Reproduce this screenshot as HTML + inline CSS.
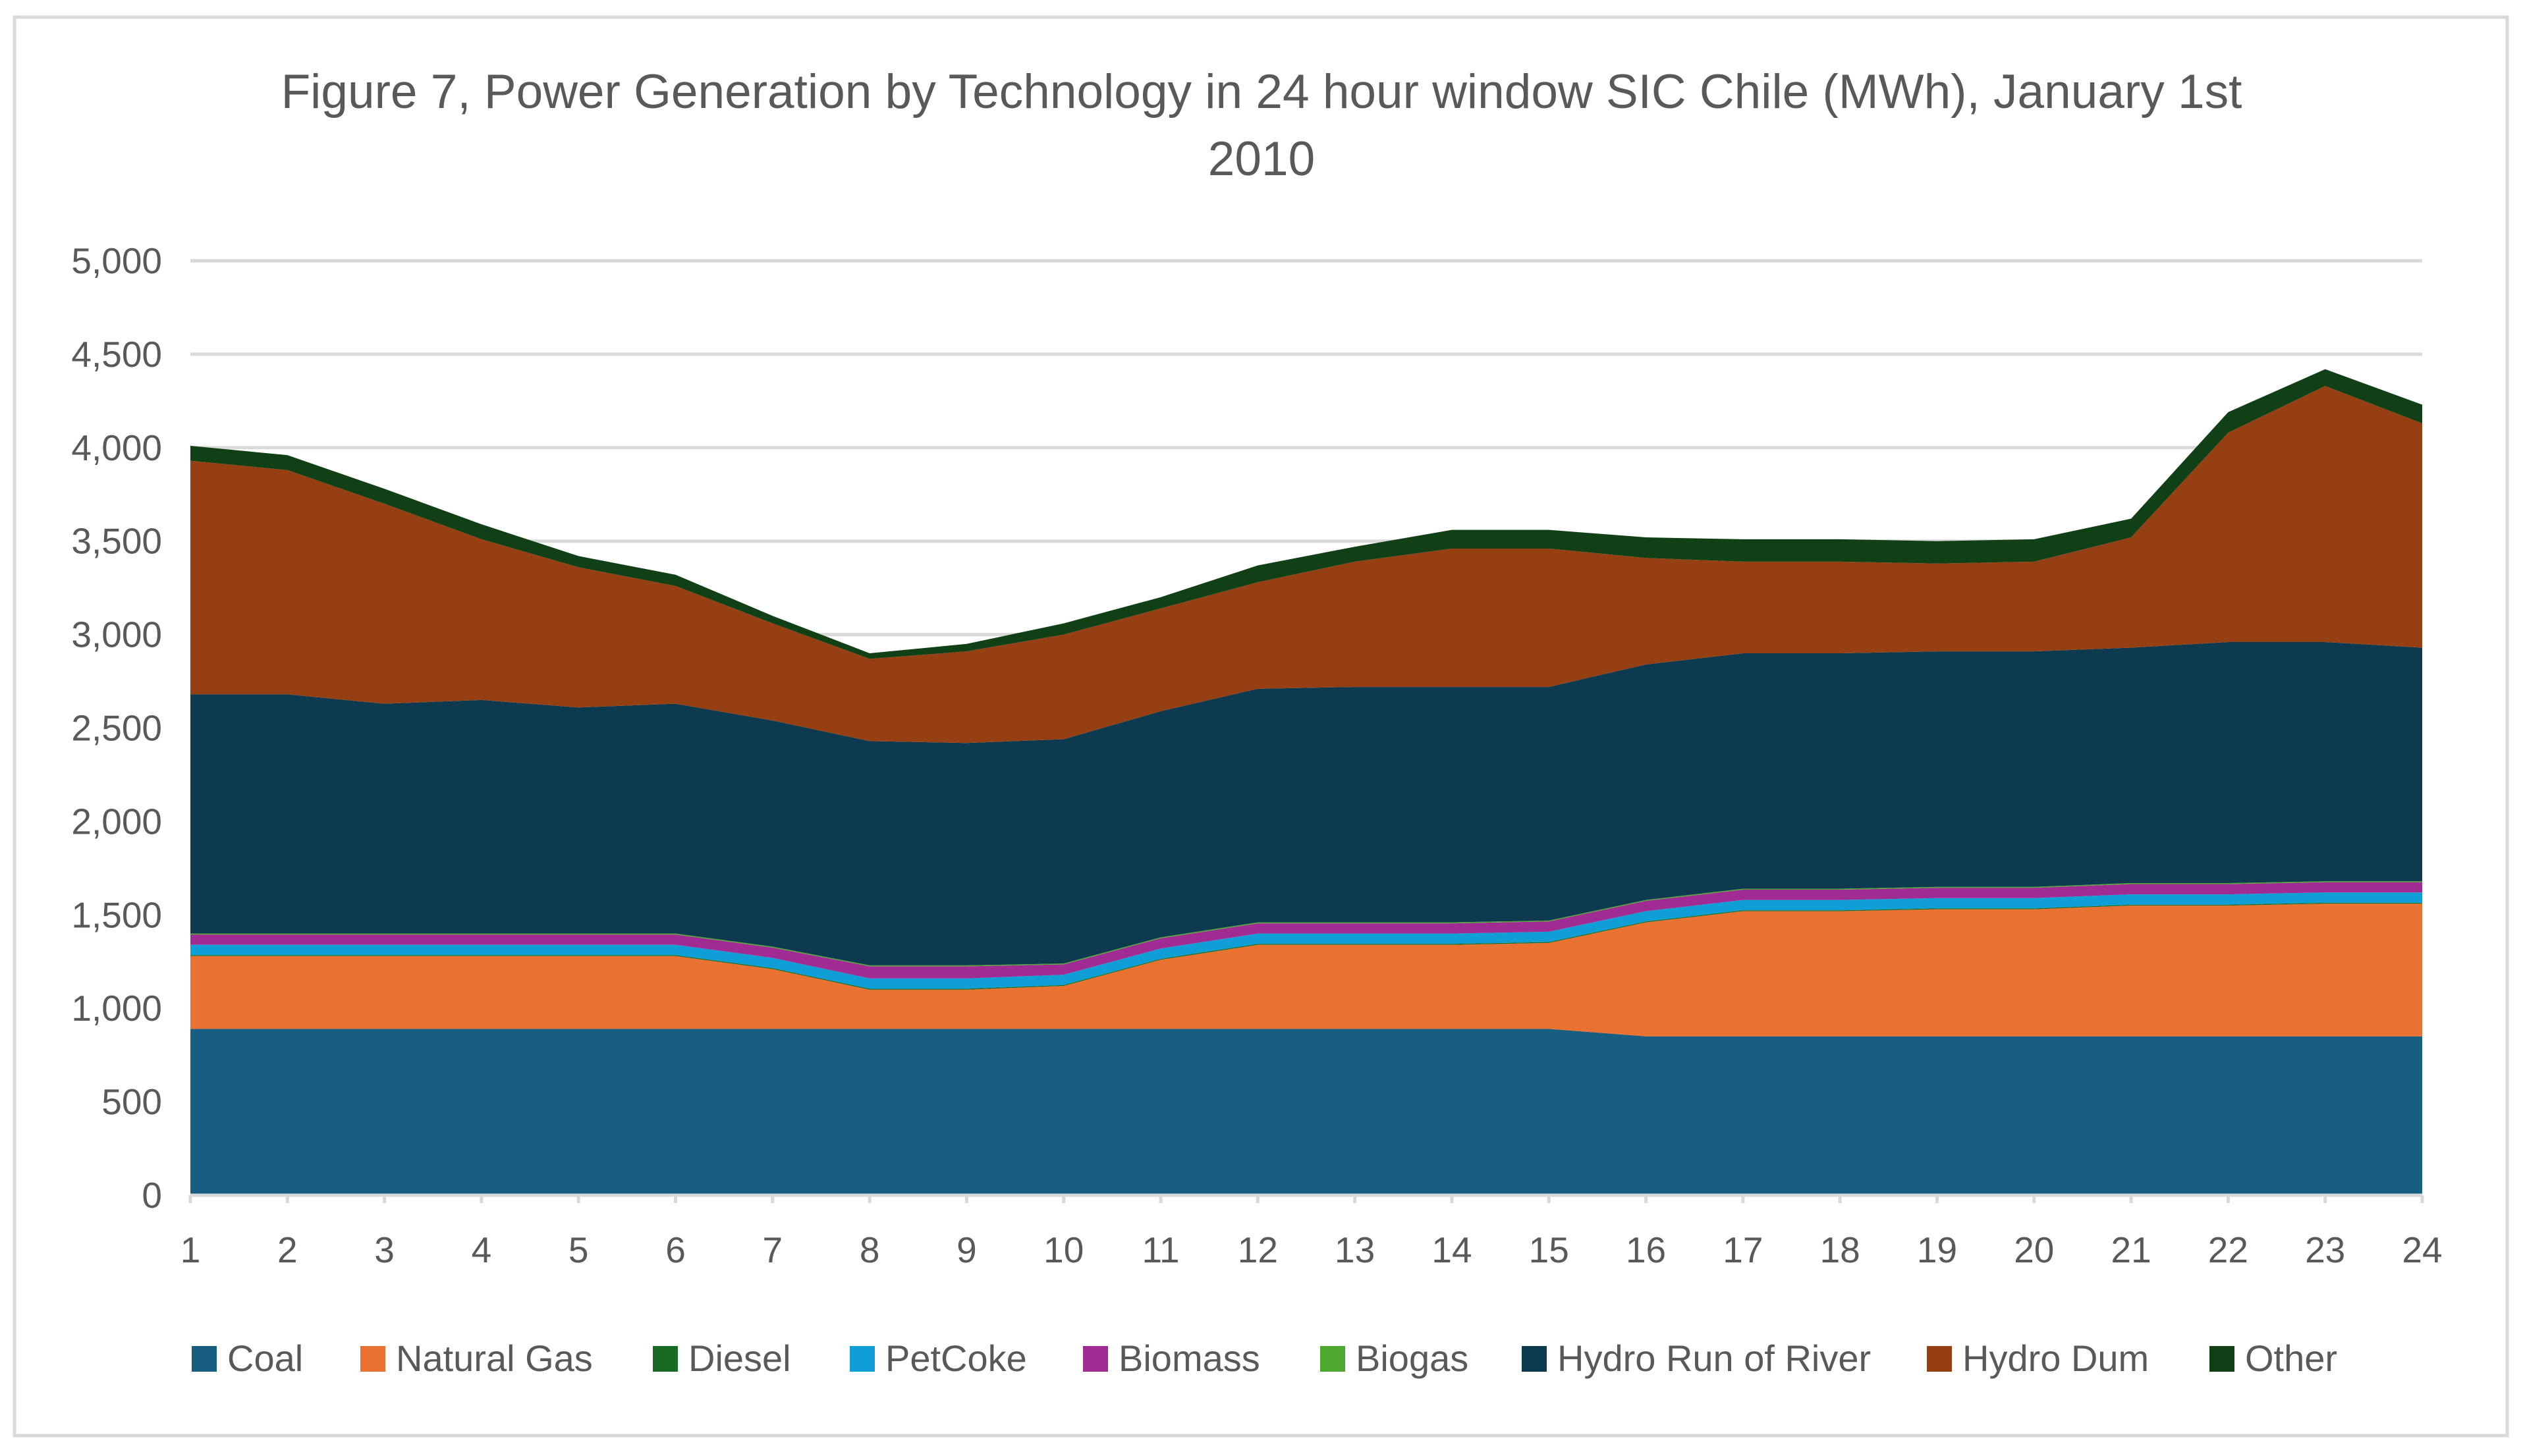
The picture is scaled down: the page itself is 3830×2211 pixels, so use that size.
<!DOCTYPE html>
<html><head><meta charset="utf-8"><style>
html,body{margin:0;padding:0;background:#fff;}
svg{display:block;font-family:"Liberation Sans",sans-serif;}
</style></head><body>
<svg id="chart" width="3830" height="2211" viewBox="0 0 3830 2211" xmlns="http://www.w3.org/2000/svg">
<rect x="22" y="26" width="3784" height="2154" fill="#fff" stroke="#d9d9d9" stroke-width="5"/>
<text x="1915" y="164" text-anchor="middle" font-size="73" fill="#595959">Figure 7, Power Generation by Technology in 24 hour window SIC Chile (MWh), January 1st</text>
<text x="1915" y="266" text-anchor="middle" font-size="73" fill="#595959">2010</text>
<g id="grid"></g>
<g id="areas"></g>
<g id="axes"></g>
<g id="legend"></g>
</svg>
<script>
const categories = [1,2,3,4,5,6,7,8,9,10,11,12,13,14,15,16,17,18,19,20,21,22,23,24];
const yTicks = [0,500,1000,1500,2000,2500,3000,3500,4000,4500,5000];
const seriesNames = ["Coal","Natural Gas","Diesel","PetCoke","Biomass","Biogas","Hydro Run of River","Hydro Dum","Other"];
const seriesColors = ["#175E81","#E97132","#196B24","#0F9ED5","#A02B93","#4EA72E","#0E3A4F","#953F12","#114016"];
const coal = [890,890,890,890,890,890,890,890,890,890,890,890,890,890,890,850,850,850,850,850,850,850,850,850];
const naturalGas = [390,390,390,390,390,390,320,210,210,230,370,450,450,450,460,610,670,670,680,680,700,700,710,710];
const diesel = [5,5,5,5,5,5,5,5,5,5,5,5,5,5,5,5,5,5,5,5,5,5,5,5];
const petCoke = [55,55,55,55,55,55,55,55,55,55,55,55,55,55,55,55,55,55,55,55,55,55,55,55];
const biomass = [55,55,55,55,55,55,55,65,65,55,55,55,55,55,55,55,55,55,55,55,55,55,55,55];
const biogas = [5,5,5,5,5,5,5,5,5,5,5,5,5,5,5,5,5,5,5,5,5,5,5,5];
const hydroRunOfRiver = [1280,1280,1230,1250,1210,1230,1210,1200,1190,1200,1210,1250,1260,1260,1250,1260,1260,1260,1260,1260,1260,1290,1280,1250];
const hydroDum = [1250,1200,1070,860,750,630,520,440,490,560,550,570,670,740,740,570,490,490,470,480,590,1120,1370,1200];
const other = [80,80,80,80,60,60,40,30,40,60,60,90,80,100,100,110,120,120,120,120,100,110,90,100];
const series = [coal,naturalGas,diesel,petCoke,biomass,biogas,hydroRunOfRiver,hydroDum,other];

const NS = "http://www.w3.org/2000/svg";
const X0 = 289, X1 = 3677, Y0 = 1815, Y1 = 396, YMAX = 5000;
function xScale(i){ return X0 + (X1 - X0) * i / (categories.length - 1); }
function yScale(v){ return Y0 - (Y0 - Y1) * v / YMAX; }
function mk(tag, attrs, parent){ const e = document.createElementNS(NS, tag); for (const k in attrs) e.setAttribute(k, attrs[k]); parent.appendChild(e); return e; }

const grid = document.getElementById('grid');
yTicks.forEach(t => {
  if (t > 0) {
    const l = mk('line', {x1:X0, x2:X1, y1:yScale(t), y2:yScale(t), stroke:'#d9d9d9', 'stroke-width':5}, grid);
    
    
  }
  const tx = mk('text', {x:246, y:yScale(t)+19, 'text-anchor':'end', 'font-size':55, fill:'#595959'}, grid);
  tx.textContent = t.toLocaleString('en-US');
  
  
});

const areas = document.getElementById('areas');
let base = categories.map(() => 0);
series.forEach((s, k) => {
  const top = base.map((b, i) => b + s[i]);
  let d = '';
  top.forEach((v, i) => { d += (i ? 'L' : 'M') + xScale(i) + ',' + yScale(v); });
  for (let i = categories.length - 1; i >= 0; i--) d += 'L' + xScale(i) + ',' + yScale(base[i]);
  d += 'Z';
  const p = mk('path', {d:d, fill:seriesColors[k]}, areas);
  
  
  base = top;
});

const axes = document.getElementById('axes');
const ax = mk('line', {x1:X0, x2:X1, y1:Y0, y2:Y0, stroke:'#d9d9d9', 'stroke-width':5}, axes);


categories.forEach((c, i) => {
  const tk = mk('line', {x1:xScale(i), x2:xScale(i), y1:Y0, y2:Y0+12, stroke:'#d9d9d9', 'stroke-width':5}, axes);
  
  
  const tx = mk('text', {x:xScale(i), y:1917, 'text-anchor':'middle', 'font-size':55, fill:'#595959'}, axes);
  tx.textContent = c;
  
  
});

const legend = document.getElementById('legend');
const legX = [291,547,991,1290,1644,2004,2310,2925,3354];
seriesNames.forEach((n, k) => {
  const g = mk('g', {}, legend);
  
  
  mk('rect', {x:legX[k], y:2044, width:38, height:39, fill:seriesColors[k]}, g);
  const t = mk('text', {x:legX[k]+54, y:2082, 'font-size':56, fill:'#595959'}, g);
  t.textContent = n;
});
</script>
</body></html>
